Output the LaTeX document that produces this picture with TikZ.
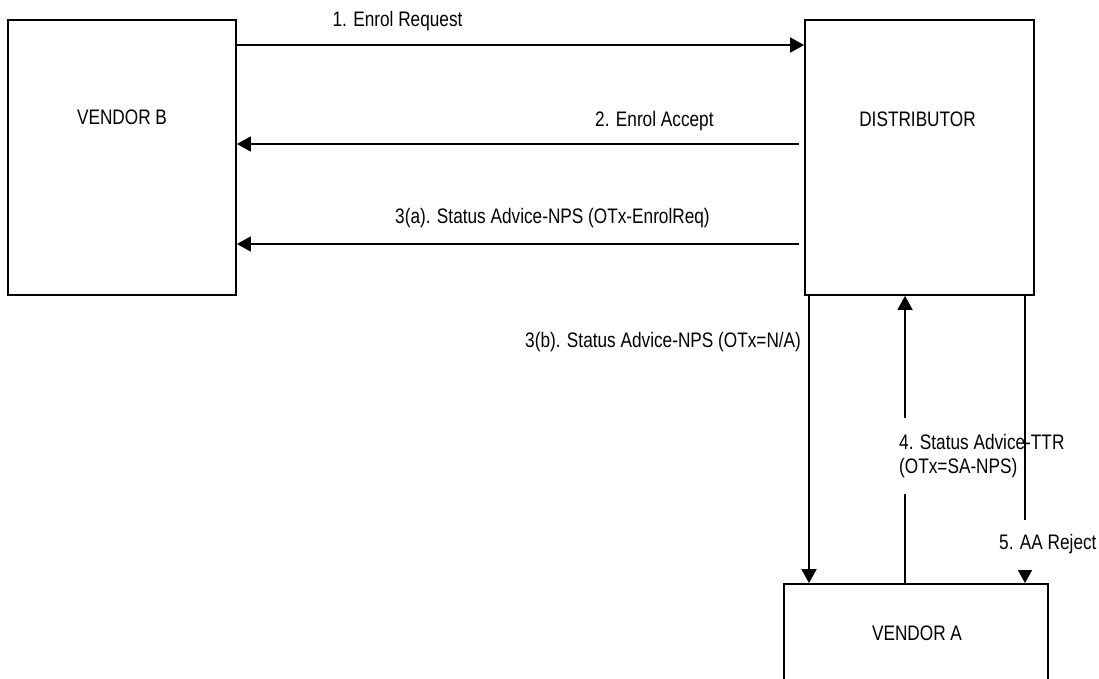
\documentclass[tikz,border=0pt]{standalone}
\usepackage{fontspec}
\setmainfont{Liberation Sans}[FakeStretch=0.82]
\usetikzlibrary{arrows.meta}
\begin{document}
\begin{tikzpicture}[x=1pt,y=-1pt,
  every node/.style={font=\fontsize{21}{24.5}\selectfont},
  party/.style={draw, line width=1.8pt, rectangle, inner sep=0pt},
  lbl/.style={inner sep=0pt},
  arr/.style={line width=1.8pt, -{Triangle[length=14pt,width=15pt]}},
  gap/.style={fill=white, inner xsep=2pt, inner ysep=0pt, align=left}]
\useasboundingbox (0,0) rectangle (1099,678);
\clip (0,0) rectangle (1099,678);
% parties
\node[party, minimum width=228pt, minimum height=275pt] (vB) at (122,157.5) {};
\node[party, minimum width=229pt, minimum height=275pt] (D) at (919.5,157.5) {};
\node[party, minimum width=264pt, minimum height=98pt] (vA) at (916,633) {};
\node[lbl, anchor=base] (vBt) at (122,124) {VENDOR B};
\node[lbl, anchor=base] (Dt) at (917.5,126) {DISTRIBUTOR};
\node[lbl, anchor=base] (vAt) at (917,640) {VENDOR A};
% horizontal messages
\draw[arr] (vB.east |- 0,45) -- (D.west |- 0,45);
\draw[arr, shorten <=5pt] (D.west |- 0,144) -- (vB.east |- 0,144);
\draw[arr, shorten <=5pt] (D.west |- 0,244) -- (vB.east |- 0,244);
\node[lbl, anchor=base] (m1) at (397.5,26) {1. Enrol Request};
\node[lbl, anchor=base west] (m2) at (595,126) {2. Enrol Accept};
\node[lbl, anchor=base west] (m3a) at (395,223) {3(a). Status Advice-NPS (OTx-EnrolReq)};
% vertical messages
\draw[arr] (D.south -| 809,0) -- (vA.north -| 809,0);
\node[lbl, anchor=base west] (m3b) at (525,347) {3(b). Status Advice-NPS (OTx=N/A)};
\draw[arr] (vA.north -| 905,0) -- (D.south -| 905,0);
\node[gap, anchor=west, minimum height=76pt] (m4) at (897,456) {4. Status Advice-TTR\\(OTx=SA-NPS)};
\draw[arr] (D.south -| 1025,0) -- (vA.north -| 1025,0);
\node[gap, anchor=west, minimum height=50pt] (m5) at (997,544.5) {5. AA Reject};
\end{tikzpicture}
\end{document}
